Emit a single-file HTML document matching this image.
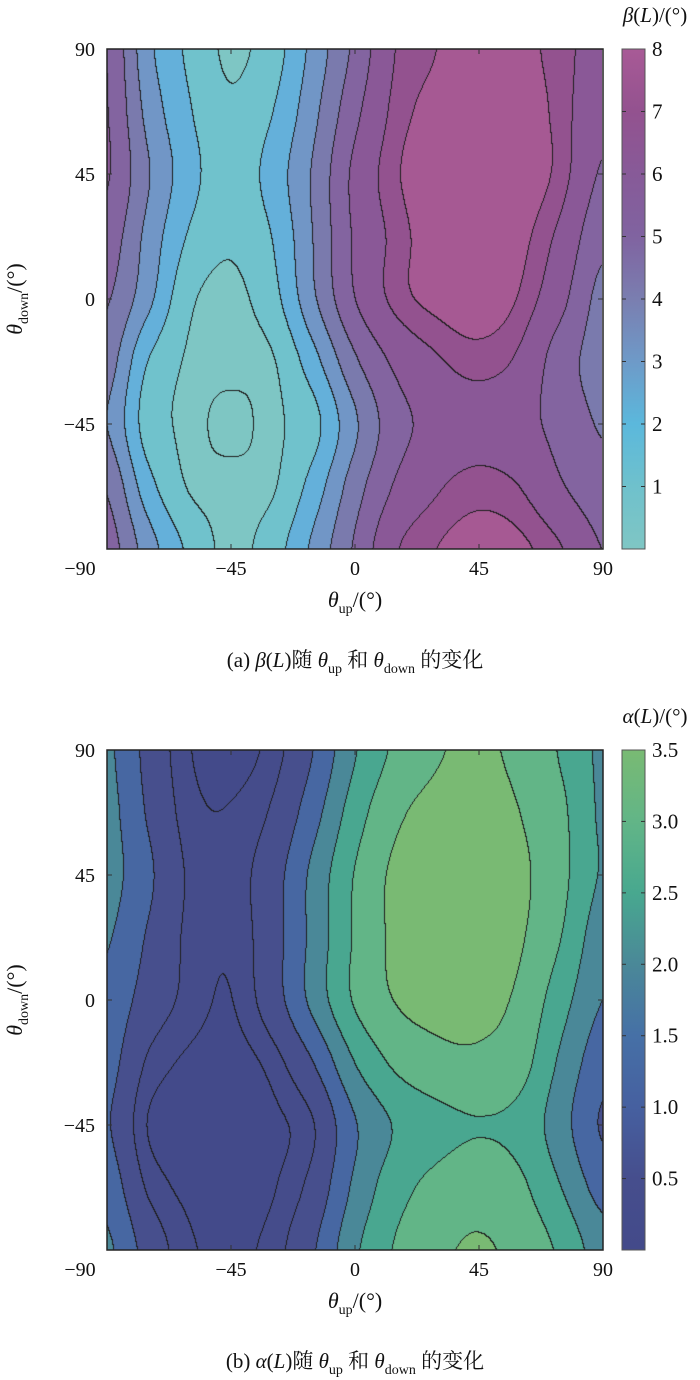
<!DOCTYPE html>
<html><head><meta charset="utf-8">
<style>
html,body{margin:0;padding:0;background:#fff;}
#wrap{position:relative;width:700px;height:1380px;overflow:hidden;}
canvas{position:absolute;}
svg{position:absolute;left:0;top:0;}
text{font-family:"Liberation Serif","Noto Serif CJK SC",serif;fill:#111;}
</style></head>
<body>
<div id="wrap">
<canvas id="cvA" width="495" height="500" style="left:107px;top:49px"></canvas>
<canvas id="cvB" width="496" height="500" style="left:107px;top:750px"></canvas>
<svg id="ov" width="700" height="1380"></svg>
</div>
<script>
// ---- data (theta_up columns, theta_down rows) ----
const thetaUp = [-90,-75,-60,-45,-30,-15,0,15,30,45,60,75,90];
const thetaDown = [90,67.5,45,22.5,0,-22.5,-45,-67.5,-90];
const betaValues = [
[6.0,3.3,1.8,0.85,1.5,3.3,5.2,7.0,7.5,7.8,7.7,7.25,6.6],
[6.05,3.7,2.1,1.15,1.95,3.7,5.7,7.2,7.7,7.95,7.85,7.3,6.25],
[6.1,4.1,2.4,1.4,2.4,4.1,6.2,7.4,7.9,8.0,7.9,7.3,5.9],
[5.6,3.7,1.9,1.15,2.0,4.0,6.1,7.2,7.85,8.0,7.7,6.8,5.3],
[5.1,3.3,1.2,0.78,1.6,3.8,5.95,7.2,7.7,7.9,7.45,6.3,4.7],
[4.5,2.0,0.88,0.72,0.9,2.6,4.8,6.2,6.9,7.25,6.85,5.5,4.6],
[4.0,1.55,0.8,0.3,0.8,1.65,3.8,5.6,6.3,6.6,6.3,5.7,4.9],
[4.9,2.4,0.93,0.72,0.88,2.4,4.5,6.1,6.9,7.25,7.0,6.1,5.4],
[5.5,3.5,1.8,0.78,1.5,3.2,5.1,6.9,7.5,7.8,7.65,7.05,6.0]
];
const alphaValues = [
[1.6,0.85,0.27,0.15,0.35,1.0,1.95,2.6,2.95,3.1,2.85,2.45,1.9],
[1.68,0.95,0.35,0.27,0.55,1.3,2.25,2.9,3.15,3.25,3.0,2.6,1.92],
[1.7,1.1,0.45,0.35,0.77,1.63,2.52,3.1,3.25,3.3,3.1,2.63,1.95],
[1.55,0.95,0.42,0.3,0.78,1.65,2.55,3.1,3.25,3.25,3.05,2.5,1.7],
[1.35,0.78,0.4,0.24,0.75,1.65,2.55,3.02,3.15,3.15,2.9,2.2,1.5],
[1.2,0.45,0.2,0.15,0.35,1.0,2.0,2.6,2.85,2.9,2.7,1.9,1.2],
[1.05,0.24,0.15,0.12,0.18,0.48,1.45,2.05,2.35,2.48,2.35,1.7,0.95],
[1.3,0.45,0.18,0.13,0.22,0.65,1.6,2.3,2.65,2.8,2.6,2.0,1.3],
[1.6,0.8,0.3,0.2,0.35,0.95,1.9,2.55,2.9,3.05,2.85,2.4,1.75]
];
const betaLevels = [0.5,1,2,3,4,5,6,7,7.5];
const alphaLevels = [0.25,0.5,1,1.5,2,2.5,3];
const axisTicks = [-90,-45,0,45,90];
const axisTickLabels = ["\u221290","\u221245","0","45","90"];
const betaBarTicks = [1,2,3,4,5,6,7,8];
const betaBarLabels = ["1","2","3","4","5","6","7","8"];
const alphaBarTicks = [0.5,1,1.5,2,2.5,3,3.5];
const alphaBarLabels = ["0.5","1.0","1.5","2.0","2.5","3.0","3.5"];
// colours
const betaColors = ["#7ec6c3","#7ec6c4","#70c2cc","#64b0da","#7196c6","#7a7aad","#8364a0","#8a5897","#93528f","#a65993"];
const alphaColors = ["#434a8a","#454c8b","#474f8d","#4767a2","#4a8898","#49a790","#62b587","#79ba73"];
const betaBarStops = [[0,"#7fc6c4"],[1,"#6fc1cc"],[2,"#5bb8dc"],[3,"#6e9ac8"],[4,"#7a7eb0"],[5,"#8063a0"],[6,"#875a98"],[7,"#93528f"],[8,"#a85a96"]];
const alphaBarStops = [[0,"#434a8a"],[0.5,"#464e8d"],[1,"#4660a0"],[1.5,"#4670a6"],[2,"#4a8898"],[2.5,"#48a88f"],[3,"#62b587"],[3.5,"#79ba73"]];

function cr(p0,p1,p2,p3,t){return 0.5*((2*p1)+(-p0+p2)*t+(2*p0-5*p1+4*p2-p3)*t*t+(-p0+3*p1-3*p2+p3)*t*t*t);}
function sample(grid,u,d){
  const nu=thetaUp.length, nd=thetaDown.length;
  let fu=(u-thetaUp[0])/(thetaUp[1]-thetaUp[0]); let fd=(d-thetaDown[0])/(thetaDown[1]-thetaDown[0]);
  let iu=Math.min(Math.floor(fu),nu-2), id=Math.min(Math.floor(fd),nd-2);
  iu=Math.max(iu,0); id=Math.max(id,0);
  const tu=fu-iu, td=fd-id;
  const cl=(i,n)=>Math.max(0,Math.min(n-1,i));
  const rows=[];
  for(let k=-1;k<=2;k++){
    const r=grid[cl(id+k,nd)];
    rows.push(cr(r[cl(iu-1,nu)],r[cl(iu,nu)],r[cl(iu+1,nu)],r[cl(iu+2,nu)],tu));
  }
  return cr(rows[0],rows[1],rows[2],rows[3],td);
}
function hex(c){return [parseInt(c.substr(1,2),16),parseInt(c.substr(3,2),16),parseInt(c.substr(5,2),16)];}
function render(id,grid,levels,colors){
  const cv=document.getElementById(id),ctx=cv.getContext('2d');
  const W=cv.width,H=cv.height;
  const B=new Int8Array(W*H);
  for(let py=0;py<H;py++){const d=90-(py+0.5)/H*180;
    for(let px=0;px<W;px++){const u=-90+(px+0.5)/W*180;
      const v=sample(grid,u,d);let b=0;while(b<levels.length&&v>=levels[b])b++;B[py*W+px]=b;}}
  const img=ctx.createImageData(W,H);const cols=colors.map(hex);
  for(let py=0;py<H;py++)for(let px=0;px<W;px++){
    const i=py*W+px;const b=B[i];let c=cols[b];
    if((px<W-1&&B[i+1]!==b)||(py<H-1&&B[i+W]!==b))c=[30,30,30];
    img.data[i*4]=c[0];img.data[i*4+1]=c[1];img.data[i*4+2]=c[2];img.data[i*4+3]=255;}
  ctx.putImageData(img,0,0);
}
render('cvA',betaValues,betaLevels,betaColors);
render('cvB',alphaValues,alphaLevels,alphaColors);

// ---- overlay ----
const NS="http://www.w3.org/2000/svg";
const ov=document.getElementById('ov');
function el(tag,attrs,parent){const e=document.createElementNS(NS,tag);for(const k in attrs)e.setAttribute(k,attrs[k]);(parent||ov).appendChild(e);return e;}
function txt(x,y,s,size,anchor,parent){const t=el('text',{x:x,y:y,'font-size':size,'text-anchor':anchor||'middle'},parent);t.textContent=s;return t;}
function ts(t,s,opts){const e=document.createElementNS(NS,'tspan');for(const k in opts)e.setAttribute(k,opts[k]);e.textContent=s;t.appendChild(e);return e;}

function panel(top,barTicks,barLabels,barStops,barMax,barTitle,capLetter,capSym,gid){
  const L=107,R=603,T=top,Bm=top+500,H=500;
  const ux=u=>L+(u+90)/180*(R-L);
  const dy=d=>T+(90-d)/180*H;
  const g=el('g',{});
  
  
  const box=el('rect',{x:L,y:T,width:R-L,height:H,fill:'none',stroke:'#222','stroke-width':1.5},g);
  
  
  for(let i=0;i<axisTicks.length;i++){
    const v=axisTicks[i];
    if(v>-90&&v<90){
      el('line',{x1:ux(v),y1:Bm,x2:ux(v),y2:Bm-5,stroke:'#333','stroke-width':1},g);
      el('line',{x1:ux(v),y1:T,x2:ux(v),y2:T+5,stroke:'#333','stroke-width':1},g);
      el('line',{x1:L,y1:dy(v),x2:L+5,y2:dy(v),stroke:'#333','stroke-width':1},g);
      el('line',{x1:R,y1:dy(v),x2:R-5,y2:dy(v),stroke:'#333','stroke-width':1},g);
    }
    const xl=txt(v===-90?80:ux(v),Bm+26,axisTickLabels[i],20,'middle',g);
    
    
    if(v>-90){
      const yl=txt(95,dy(v)+7,axisTickLabels[i],20,'end',g);
      
      
    }
  }
  const xt=el('text',{x:355,y:Bm+58,'font-size':22,'text-anchor':'middle'},g);
  
  
  ts(xt,'\u03b8',{'font-style':'italic'});ts(xt,'up',{'font-size':14,dy:6});ts(xt,'/(\u00b0)',{dy:-6});
  const yt=el('text',{x:0,y:0,'font-size':22,'text-anchor':'middle',transform:'translate(22,'+(T+250)+') rotate(-90)'},g);
  
  
  ts(yt,'\u03b8',{'font-style':'italic'});ts(yt,'down',{'font-size':14,dy:6});ts(yt,'/(\u00b0)',{dy:-6});
  const gradId='grad'+gid;
  const defs=el('defs',{},g);
  const lg=el('linearGradient',{id:gradId,x1:0,y1:1,x2:0,y2:0},defs);
  for(const s of barStops)el('stop',{offset:(s[0]/barMax),'stop-color':s[1]},lg);
  const cb=el('rect',{x:622,y:T,width:23,height:H,fill:'url(#'+gradId+')',stroke:'#555','stroke-width':1},g);
  
  
  for(let i=0;i<barTicks.length;i++){
    const y=Bm-barTicks[i]/barMax*H;
    if(barTicks[i]<barMax){
      el('line',{x1:622,y1:y,x2:626,y2:y,stroke:'#333','stroke-width':1},g);
      el('line',{x1:645,y1:y,x2:641,y2:y,stroke:'#333','stroke-width':1},g);
    }
    const cl=txt(652,y+7,barLabels[i],21,'start',g);
    
    
  }
  const bt=el('text',{x:655,y:T-27,'font-size':21,'text-anchor':'middle'},g);
  
  
  ts(bt,barTitle,{'font-style':'italic'});ts(bt,'(');ts(bt,'L',{'font-style':'italic'});ts(bt,')/(\u00b0)');
  const cp=el('text',{x:355,y:Bm+118,'font-size':21,'text-anchor':'middle'},g);
  
  
  ts(cp,'('+capLetter+') ');ts(cp,capSym,{'font-style':'italic'});ts(cp,'(');ts(cp,'L',{'font-style':'italic'});ts(cp,')随 ');
  ts(cp,'\u03b8',{'font-style':'italic'});ts(cp,'up',{'font-size':14,dy:6});ts(cp,' 和 ',{dy:-6});
  ts(cp,'\u03b8',{'font-style':'italic'});ts(cp,'down',{'font-size':14,dy:6});ts(cp,' 的变化',{dy:-6});
}
panel(49,betaBarTicks,betaBarLabels,betaBarStops,8,'\u03b2','a','\u03b2','beta');
panel(750,alphaBarTicks,alphaBarLabels,alphaBarStops,3.5,'\u03b1','b','\u03b1','alpha');
</script>
</body></html>
